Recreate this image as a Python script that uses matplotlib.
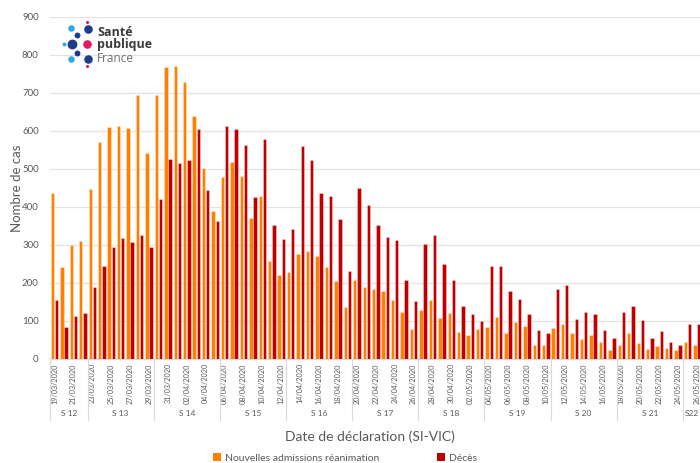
import matplotlib
matplotlib.use("Agg")
import matplotlib.pyplot as plt
import matplotlib.transforms as mtransforms
from matplotlib.patches import Patch
import datetime as dt

plt.rcParams['font.family'] = ['Lato', 'DejaVu Sans']

# ---------------- data ----------------
start = dt.date(2020, 3, 19)
dates = [(start + dt.timedelta(days=i)).strftime("%d/%m/%Y") for i in range(69)]

admissions = [437, 243, 300, 310, 448, 572, 610, 612, 608, 695,
              543, 695, 768, 772, 730, 640, 502, 390, 478, 518,
              482, 370, 430, 257, 220, 228, 276, 284, 270, 243,
              205, 138, 208, 190, 185, 180, 155, 125, 80, 128,
              154, 109, 120, 72, 63, 80, 83, 110, 69, 98,
              88, 37, 37, 82, 92, 68, 53, 62, 46, 24,
              37, 68, 41, 26, 35, 29, 24, 44, 37]
deces = [155, 83, 113, 122, 190, 245, 295, 318, 307, 327,
         296, 422, 526, 516, 524, 606, 446, 362, 613, 606,
         562, 426, 578, 353, 316, 343, 560, 524, 436, 430,
         368, 231, 450, 404, 352, 322, 312, 208, 152, 302,
         327, 250, 207, 139, 118, 100, 245, 244, 180, 158,
         118, 76, 69, 184, 194, 104, 125, 118, 76, 54,
         123, 139, 102, 56, 74, 46, 36, 93, 91]

week_labels = ["S 12", "S 13", "S 14", "S 15", "S 16", "S 17",
               "S 18", "S 19", "S 20", "S 21", "S22"]
week_sizes = [4, 7, 7, 7, 7, 7, 7, 7, 7, 7, 2]

yticks = [0, 100, 200, 300, 400, 500, 600, 700, 800, 900]

orange = "#FF7F00"
red = "#C00000"
grey_txt = "#595959"

# ---------------- figure ----------------
fig = plt.figure(figsize=(7.0, 4.63), dpi=100)
W, H = 700, 463
left_px, right_px = 49.8, 701.7
top_px, bot_px = 17, 359
ax = fig.add_axes([left_px / W, (H - bot_px) / H,
                   (right_px - left_px) / W, (bot_px - top_px) / H])

x = list(range(len(dates)))
bw = 0.36
off = 0.22
ax.bar([i - off for i in x], admissions, width=bw, color=orange,
       edgecolor=(1, 1, 1, 0.45), linewidth=0.5, zorder=3)
ax.bar([i + off for i in x], deces, width=bw, color=red,
       edgecolor=(1, 1, 1, 0.45), linewidth=0.5, zorder=3)

ax.set_xlim(-0.5, len(dates) - 0.5)
ax.set_ylim(0, 900)
ax.set_yticks(yticks)
ax.set_yticklabels([str(v) for v in yticks], fontsize=7, color=grey_txt)
ax.yaxis.grid(True, color="#E3E3E3", linewidth=0.9, zorder=0)
ax.tick_params(axis='y', length=0, pad=8)
for s in ['top', 'right', 'left']:
    ax.spines[s].set_visible(False)
ax.spines['bottom'].set_color("#D9D9D9")
ax.spines['bottom'].set_linewidth(0.9)

ax.set_xticks(x[::2])
ax.set_xticklabels(dates[::2], rotation=90, fontsize=5.2, color=grey_txt)
ax.tick_params(axis='x', length=0, pad=3)

# week grouping
trans = mtransforms.blended_transform_factory(ax.transData, ax.transAxes)
sep_bottom = -(420 - bot_px) / (bot_px - top_px)
lab_y = -(414 - bot_px) / (bot_px - top_px)
pos = -0.5
for lab, n in zip(week_labels, week_sizes):
    ax.plot([pos, pos], [0, sep_bottom], transform=trans, color="#D9D9D9",
            linewidth=0.8, clip_on=False)
    ax.text(pos + n / 2, lab_y, lab, transform=trans, ha='center', va='center',
            fontsize=6, color=grey_txt)
    pos += n

ax.set_ylabel("Nombre de cas", fontsize=9.5, color=grey_txt)
ax.yaxis.set_label_coords(-(left_px - 23) / (right_px - left_px), 0.5)

fig.text(370 / W, 1 - 437 / H, "Date de déclaration (SI-VIC)", ha='center',
         va='center', fontsize=10, color=grey_txt)

handles = [Patch(facecolor=orange, label="Nouvelles admissions réanimation"),
           Patch(facecolor=red, label="Décès")]
leg = fig.legend(handles=handles, loc='center', bbox_to_anchor=(0.493, 1 - 458 / H),
                 ncol=2, frameon=False, fontsize=7.5, handlelength=0.8,
                 handleheight=0.8, handletextpad=0.4, columnspacing=5.5)
for t in leg.get_texts():
    t.set_color(grey_txt)

# logo (decoration)
lax = fig.add_axes([0, 0, 1, 1])
lax.set_xlim(0, W)
lax.set_ylim(H, 0)
lax.axis('off')
dots = [(71, 28, 22, "#29ABE2"), (88, 29, 38, "#1F3B8C"), (77, 35, 18, "#1F3B8C"),
        (64, 44, 8, "#29ABE2"), (72, 44, 50, "#1F3B8C"), (87, 44, 38, "#E4185B"),
        (77, 53, 18, "#1F3B8C"), (71, 59, 22, "#29ABE2"), (88, 59, 38, "#1F3B8C"),
        (87, 22, 5, "#E4185B"), (87, 66, 5, "#E4185B")]
for dx, dy, s, c in dots:
    lax.scatter([dx], [dy], s=s, color=c, linewidths=0)
lax.text(97, 32, "Santé", fontsize=9, fontweight='bold', color="#3C3C3C",
         va='center', ha='left', family=['Open Sans', 'DejaVu Sans'])
lax.text(97, 44.5, "publique", fontsize=9, fontweight='bold', color="#3C3C3C",
         va='center', ha='left', family=['Open Sans', 'DejaVu Sans'])
lax.text(97, 58, "France", fontsize=8.5, color="#707070",
         va='center', ha='left', family=['Open Sans', 'DejaVu Sans'])

fig.savefig("out.png", dpi=100)
